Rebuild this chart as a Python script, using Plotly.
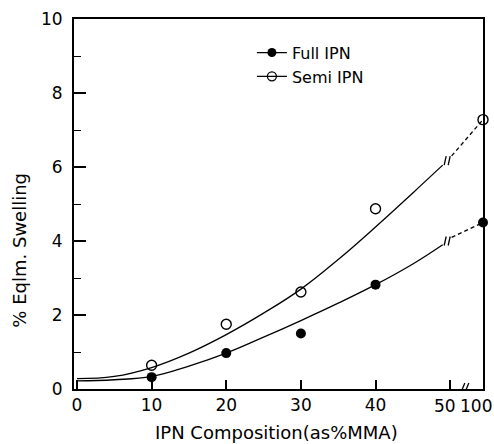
import plotly.graph_objects as go

# ---- data ----
x_pts = [10, 20, 30, 40]
full_pts = [0.32, 0.97, 1.5, 2.82]
semi_pts = [0.64, 1.75, 2.62, 4.87]
X100 = 54.4            # axis position used for the "100" composition (after break)
full_100 = 4.5
semi_100 = 7.28

curve_x = [0, 5, 10, 15, 20, 25, 30, 35, 40, 45, 49]
full_curve = [0.22, 0.25, 0.34, 0.62, 0.97, 1.4, 1.85, 2.32, 2.82, 3.38, 3.9]
semi_curve = [0.28, 0.34, 0.58, 0.97, 1.47, 2.05, 2.7, 3.5, 4.38, 5.3, 6.05]
tail_start_x = 50.2
full_tail_start = 4.1
semi_tail_start = 6.3

x_tickvals = [0, 10, 20, 30, 40, 50]
x_ticktext = ["0", "10", "20", "30", "40", ""]
y_tickvals = [0, 2, 4, 6, 8, 10]

FONT = "DejaVu Sans"
BLACK = "black"

fig = go.Figure()

# fitted curves
for cy in (full_curve, semi_curve):
    fig.add_trace(go.Scatter(x=curve_x, y=cy, mode="lines",
                             line=dict(color=BLACK, width=1.3, shape="spline", smoothing=1.2),
                             showlegend=False, hoverinfo="skip"))
# dashed tails to the 100 % points
fig.add_trace(go.Scatter(x=[tail_start_x, X100], y=[full_tail_start, full_100], mode="lines",
                         line=dict(color=BLACK, width=1.3, dash="4px,3px"), showlegend=False))
fig.add_trace(go.Scatter(x=[tail_start_x, X100], y=[semi_tail_start, semi_100], mode="lines",
                         line=dict(color=BLACK, width=1.3, dash="4px,3px"), showlegend=False))

# data points
fig.add_trace(go.Scatter(x=x_pts + [X100], y=full_pts + [full_100], mode="markers",
                         marker=dict(symbol="circle", size=10, color=BLACK), showlegend=False, cliponaxis=False))
fig.add_trace(go.Scatter(x=x_pts + [X100], y=semi_pts + [semi_100], mode="markers",
                         marker=dict(symbol="circle-open", size=10, color=BLACK, line=dict(width=1.4)),
                         showlegend=False, cliponaxis=False))

# legend entries
fig.add_trace(go.Scatter(x=[None], y=[None], mode="lines+markers", name="Full IPN",
                         marker=dict(symbol="circle", size=9, color=BLACK), line=dict(color=BLACK, width=1.3)))
fig.add_trace(go.Scatter(x=[None], y=[None], mode="lines+markers", name="Semi IPN",
                         marker=dict(symbol="circle-open", size=9, color=BLACK, line=dict(width=1.3)),
                         line=dict(color=BLACK, width=1.3)))

# break marks on curves and x axis
shapes = []
def brk(xa, ya, h, slant, gap):
    for d in (-gap / 2, gap / 2):
        shapes.append(dict(type="line", xref="x", yref="y", xsizemode="pixel", ysizemode="pixel",
                           xanchor=xa, yanchor=ya, x0=d - slant, x1=d + slant, y0=-h / 2, y1=h / 2,
                           line=dict(color=BLACK, width=1.3)))
brk((curve_x[-1] + tail_start_x) / 2, (full_curve[-1] + full_tail_start) / 2, 9, 1, 4)
brk((curve_x[-1] + tail_start_x) / 2, (semi_curve[-1] + semi_tail_start) / 2, 9, 1, 4)
brk(51.9, 0, 12, 2.5, 4)

fig.update_layout(
    width=494, height=444,
    margin=dict(l=74, r=9, t=15, b=55),
    paper_bgcolor="white", plot_bgcolor="white",
    font=dict(family=FONT, size=16, color=BLACK),
    shapes=shapes,
    showlegend=True,
    legend=dict(x=0.435, y=0.955, xanchor="left", yanchor="top", bgcolor="rgba(0,0,0,0)",
                font=dict(family=FONT, size=16), tracegroupgap=0, itemwidth=30),
    xaxis=dict(range=[-0.4, X100], tickvals=x_tickvals, ticktext=x_ticktext, ticks="inside", ticklen=9,
               tickwidth=1.5, tickcolor=BLACK, showline=True, linecolor=BLACK, linewidth=2, mirror=True,
               showgrid=False, zeroline=False, tickfont=dict(size=17)),
    yaxis=dict(range=[0, 10], tickvals=y_tickvals, ticks="inside", ticklen=12, tickwidth=1.5, tickcolor=BLACK,
               showline=True, linecolor=BLACK, linewidth=2, mirror=True, showgrid=False, zeroline=False,
               tickfont=dict(size=17), ticklabelstandoff=6,
               minor=dict(dtick=1, ticks="inside", ticklen=7, tickwidth=1.2, tickcolor=BLACK, showgrid=False)),
    annotations=[
        dict(text="50", x=49.3, y=-0.047, xref="x", yref="paper", showarrow=False, font=dict(size=17),
             xanchor="center", yanchor="middle"),
        dict(text="100", x=53.5, y=-0.047, xref="x", yref="paper", showarrow=False, font=dict(size=17),
             xanchor="center", yanchor="middle"),
        dict(text="% Eqlm. Swelling", x=-0.132, y=0.374, xref="paper", yref="paper", showarrow=False,
             textangle=-90, font=dict(size=18), xanchor="center", yanchor="middle"),
        dict(text="IPN Composition(as%MMA)", x=0.496, y=-0.118, xref="paper", yref="paper", showarrow=False,
             font=dict(size=18), xanchor="center", yanchor="middle"),
    ],
)

fig.write_html("out.html")
